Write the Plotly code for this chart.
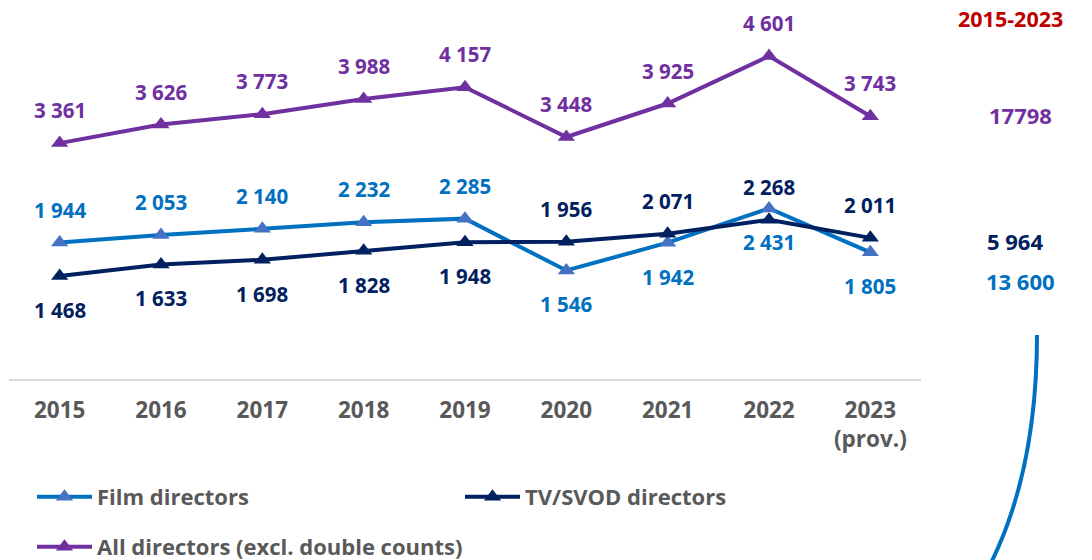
import plotly.graph_objects as go

years = ["2015", "2016", "2017", "2018", "2019", "2020", "2021", "2022", "2023"]
tick_labels = ["2015", "2016", "2017", "2018", "2019", "2020", "2021", "2022", "2023<br>(prov.)"]
film = [1944, 2053, 2140, 2232, 2285, 1546, 1942, 2431, 1805]
tv = [1468, 1633, 1698, 1828, 1948, 1956, 2071, 2268, 2011]
all_dir = [3361, 3626, 3773, 3988, 4157, 3448, 3925, 4601, 3743]
film_label_pos = ["above", "above", "above", "above", "above", "below", "below", "below", "below"]
tv_label_pos = ["below", "below", "below", "below", "below", "above", "above", "above", "above"]
all_label_pos = ["above"] * 9
totals_title = "2015-2023"
total_all = "17798"
total_tv = "5 964"
total_film = "13 600"

C_FILM = "#0070C0"
C_FILM_M = "#4472C4"
C_TV = "#002060"
C_ALL = "#7030A0"
FONT = "Open Sans"

W, H = 1092, 560
L, R_PX, B_PX = 9, 921, 379
YMAX = 5400


def fmt(v):
    return f"{v:,}".replace(",", " ")


fig = go.Figure()
fig.add_trace(go.Scatter(x=years, y=film, mode="lines+markers", name="Film directors",
                         line=dict(color=C_FILM, width=4),
                         marker=dict(symbol="triangle-up", size=15, color=C_FILM_M),
                         legend="legend"))
fig.add_trace(go.Scatter(x=years, y=tv, mode="lines+markers", name="TV/SVOD directors",
                         line=dict(color=C_TV, width=4),
                         marker=dict(symbol="triangle-up", size=15, color=C_TV),
                         legend="legend"))
fig.add_trace(go.Scatter(x=years, y=all_dir, mode="lines+markers",
                         name="All directors (excl. double counts)",
                         line=dict(color=C_ALL, width=4),
                         marker=dict(symbol="triangle-up", size=15, color=C_ALL),
                         legend="legend2"))

annotations = []
for series, pos, col in [(film, film_label_pos, C_FILM), (tv, tv_label_pos, C_TV), (all_dir, all_label_pos, C_ALL)]:
    for i, (v, p) in enumerate(zip(series, pos)):
        annotations.append(dict(x=i, y=v, xref="x", yref="y", text=fmt(v), showarrow=False,
                                yshift=33 if p == "above" else -34,
                                font=dict(family=FONT, size=20.5, color=col, weight="bold")))


def px2paper(px, py):
    return (px - L) / (R_PX - L), (B_PX - py) / B_PX


for txt, px, py, col, fs in [(totals_title, 1010, 18, "#C00000", 21.5), (total_all, 1020, 115, C_ALL, 22),
                              (total_tv, 1015, 241, C_TV, 22), (total_film, 1020, 281, C_FILM, 22)]:
    xp, yp = px2paper(px, py)
    annotations.append(dict(x=xp, y=yp, xref="paper", yref="paper", text=txt, showarrow=False,
                            xanchor="center", yanchor="middle",
                            font=dict(family=FONT, size=fs, color=col, weight="bold")))

p0 = px2paper(1037, 335)
p1 = px2paper(1037, 471)
p2 = px2paper(990, 565)
path = f"M {p0[0]},{p0[1]} Q {p1[0]},{p1[1]} {p2[0]},{p2[1]}"

fig.update_layout(
    width=W, height=H,
    margin=dict(l=L, r=W - R_PX, t=0, b=H - B_PX, autoexpand=False),
    plot_bgcolor="white", paper_bgcolor="white",
    font=dict(family=FONT),
    annotations=annotations,
    shapes=[dict(type="path", path=path, xref="paper", yref="paper",
                 line=dict(color=C_FILM, width=4))],
    xaxis=dict(type="category", categoryorder="array", categoryarray=years,
               range=[-0.5, len(years) - 0.5], autorange=False,
               tickmode="array", tickvals=years, ticktext=tick_labels, tickangle=0,
               showgrid=False, zeroline=False,
               showline=True, linecolor="#D9D9D9", linewidth=2, ticks="",
               ticklabelstandoff=10,
               tickfont=dict(family=FONT, size=22.5, color="#595959", weight="bold")),
    yaxis=dict(range=[0, YMAX], autorange=False, visible=False, showgrid=False, zeroline=False),
    legend=dict(orientation="h", x=(32 - L) / (R_PX - L), y=(B_PX - 497) / B_PX,
                xanchor="left", yanchor="middle", entrywidth=358, itemwidth=55,
                font=dict(family=FONT, size=22, color="#595959", weight="bold"),
                bgcolor="rgba(0,0,0,0)"),
    legend2=dict(orientation="h", x=(32 - L) / (R_PX - L), y=(B_PX - 547) / B_PX,
                 xanchor="left", yanchor="middle", itemwidth=55,
                 font=dict(family=FONT, size=22, color="#595959", weight="bold"),
                 bgcolor="rgba(0,0,0,0)"),
)

fig.write_html("out.html", config={"displayModeBar": False},
               post_script="document.body.style.margin='0';document.body.style.overflow='hidden';")
